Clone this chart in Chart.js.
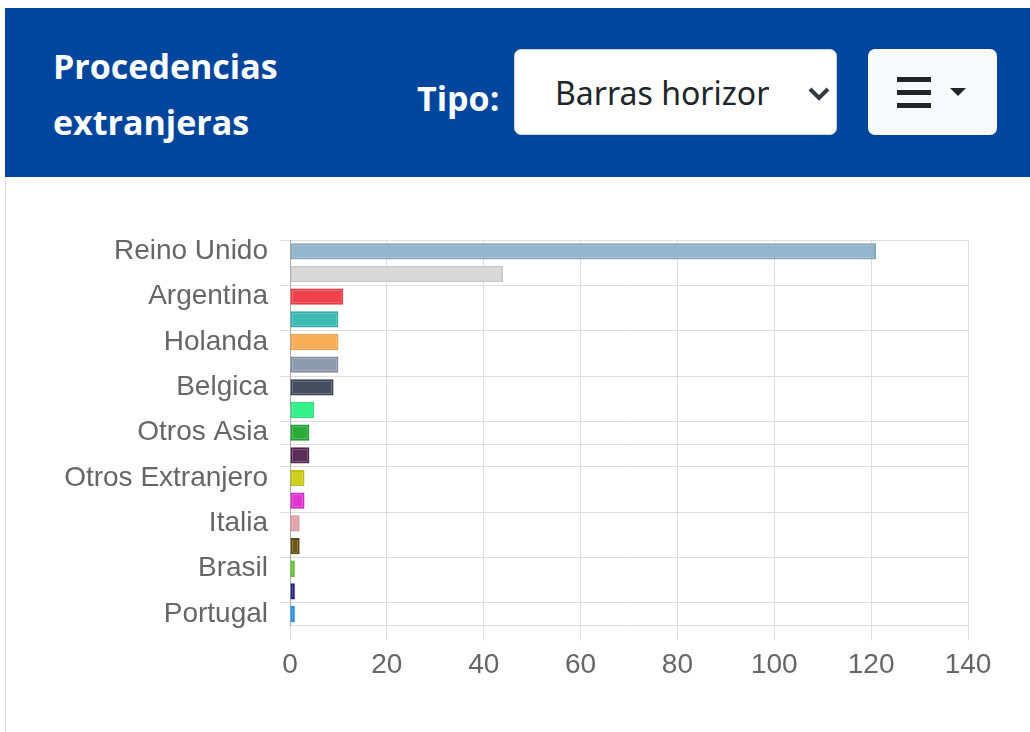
<!DOCTYPE html>
<html>
<head>
<meta charset="utf-8">
<script src="https://cdn.jsdelivr.net/npm/chart.js@4"></script>
<style>
    body { margin: 0; background: #fff; width: 1030px; height: 732px; overflow: hidden; position: relative; font-family: "Open Sans", sans-serif; }
    .card-border { position: absolute; left: 5px; top: 8px; width: 1040px; height: 760px; border-left: 1px solid #dcdcdc; box-sizing: border-box; }
    .header { position: absolute; left: 5px; top: 8px; width: 1040px; height: 169px; background: #00469d; }
    .title { position: absolute; left: 53px; top: 38px; color: #fff; font-weight: 700; font-size: 34px; line-height: 56px; }
    .tipo { position: absolute; left: 417px; top: 70px; color: #fff; font-weight: 700; font-size: 34px; line-height: 56px; }
    .select { position: absolute; left: 514px; top: 49px; width: 323px; height: 86px; background: #fff; border-radius: 7px; box-sizing: border-box; border: 1px solid #ced4da; }
    .select .txt { position: absolute; left: 40px; top: 0; width: 214px; height: 86px; overflow: hidden; white-space: nowrap; color: #212529; font-size: 32px; line-height: 86px; font-family: "Noto Sans", sans-serif; }
    .select svg { position: absolute; left: 292px; top: 36px; }
    .btn { position: absolute; left: 868px; top: 49px; width: 129px; height: 86px; background: #f8f9fa; border-radius: 7px; }
    .btn svg { position: absolute; left: 0; top: 0; }
    #wrap { position: absolute; left: 0; top: 190px; width: 1030px; height: 520px; }
</style>
</head>
<body>
<div class="card-border"></div>
<div class="header">
</div>
<div class="title">Procedencias<br>extranjeras</div>
<div class="tipo">Tipo:</div>
<div class="select">
    <div class="txt">Barras horizontales</div>
    <svg width="24" height="16" viewBox="0 0 24 16"><polyline points="3,3 12,12 21,3" fill="none" stroke="#343a40" stroke-width="4"/></svg>
</div>
<div class="btn">
    <svg width="129" height="86" viewBox="0 0 129 86">
        <rect x="29" y="28" width="34" height="5" fill="#212529"/>
        <rect x="29" y="41" width="34" height="5" fill="#212529"/>
        <rect x="29" y="54" width="34" height="5" fill="#212529"/>
        <polygon points="82,39 98,39 90,47" fill="#212529"/>
    </svg>
</div>
<div id="wrap"><canvas id="chart"></canvas></div>
<script>
// data
const categories = ['Reino Unido', 'Alemania', 'Argentina', 'Francia', 'Holanda', 'Estados Unidos', 'Belgica', 'Suiza',
    'Otros Asia', 'Otros Europa', 'Otros Extranjero', 'Irlanda', 'Italia', 'Otros America', 'Brasil', 'Rusia', 'Portugal'];
const visitors = [121, 44, 11, 10, 10, 10, 9, 5, 4, 4, 3, 3, 2, 2, 1, 1, 1];
const xTicks = [0, 20, 40, 60, 80, 100, 120, 140];

const barColors = ['#93b6cc', '#d9d9d9', '#f0414d', '#3fb9b3', '#f8ae58', '#8e9aae', '#454e5e', '#36f08a', '#2aab3a',
    '#5c2e5a', '#cfcf1c', '#e035d0', '#e1a3ab', '#6e5614', '#6ccf3a', '#2a2890', '#2a9af0'];
const borderColors = ['#84a6bd', '#c9c9c9', '#e83843', '#36aaa4', '#eea24c', '#808ca0', '#3b4352', '#2ee07c', '#239a32',
    '#4e254c', '#bdbd14', '#cf2bbf', '#d6959d', '#5f4a0f', '#5fbf30', '#232180', '#238ce0'];

const tickFont = { family: 'Liberation Sans, Arial, sans-serif', size: 28 };

// grid lines only at the labelled rows (plus the odd one the original draws)
function rowLine(ctx) {
    const i = ctx.index;
    if (i % 2 === 0 || i === 9 || i >= categories.length) return '#dedede';
    return 'rgba(0,0,0,0)';
}

new Chart(document.getElementById('chart'), {
    type: 'bar',
    data: {
        labels: categories,
        datasets: [{
            data: visitors,
            backgroundColor: barColors,
            borderColor: borderColors,
            borderWidth: 2,
            borderSkipped: false
        }]
    },
    options: {
        indexAxis: 'y',
        responsive: true,
        maintainAspectRatio: false,
        animation: false,
        layout: { padding: { left: 60, right: 62, top: 50, bottom: 20 } },
        plugins: { legend: { display: false }, tooltip: { enabled: false } },
        scales: {
            x: {
                min: 0,
                max: 140,
                afterBuildTicks: (scale) => { scale.ticks = xTicks.map(v => ({ value: v })); },
                ticks: { color: '#666', font: tickFont, padding: 8 },
                grid: { color: '#dedede', tickLength: 15 },
                border: { color: '#dedede' }
            },
            y: {
                afterFit: (scale) => { scale.width = 230; },
                ticks: {
                    autoSkip: false,
                    color: '#666',
                    font: tickFont,
                    padding: 12,
                    callback: function (value, index) { return index % 2 === 0 ? categories[index] : ''; }
                },
                grid: { color: rowLine, tickLength: 10 },
                border: { color: '#a8a8a8' }
            }
        }
    }
});
</script>
</body>
</html>
